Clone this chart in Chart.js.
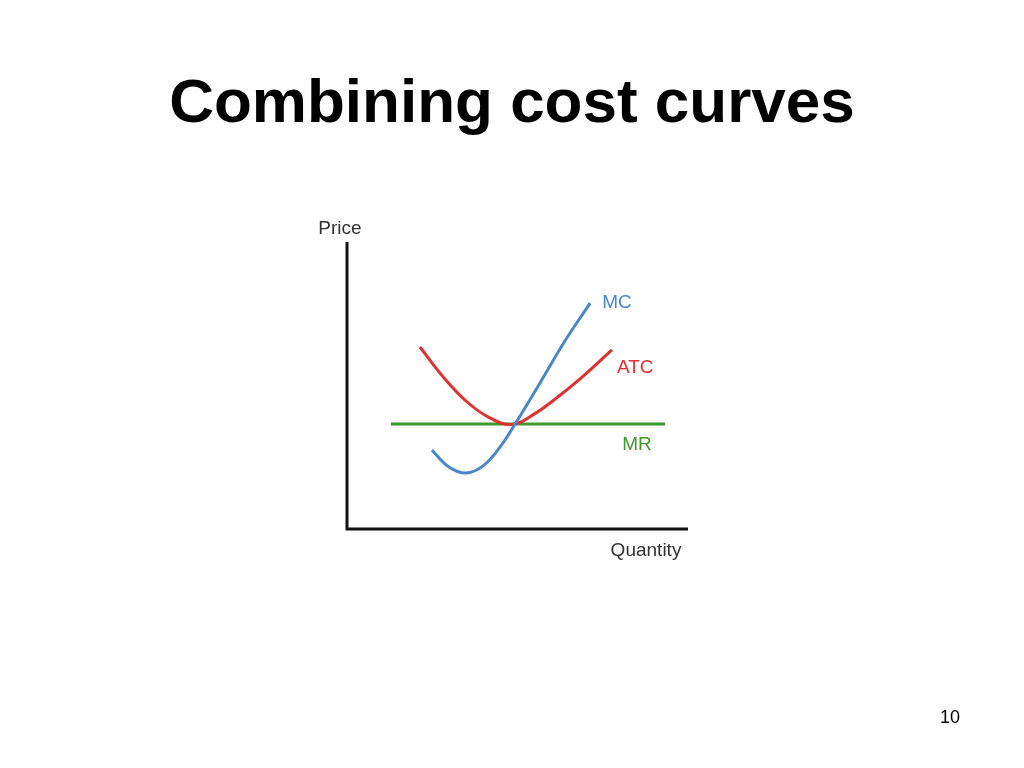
<!DOCTYPE html>
<html>
<head>
<meta charset="utf-8">
<script src="https://cdn.jsdelivr.net/npm/chart.js@4"></script>
<style>
    body { margin: 0; background: #fff; font-family: "Liberation Sans", Arial, sans-serif; }
    #slide { position: relative; width: 1024px; height: 768px; }
    #title { position: absolute; left: 0; width: 1024px; top: 70px; text-align: center;
             font-size: 62px; font-weight: bold; color: #000; line-height: 62px; }
    #page { position: absolute; left: 930px; width: 40px; top: 707px; text-align: center; font-size: 18px; color: #000; }
    canvas { position: absolute; left: 0; top: 0; }
</style>
</head>
<body>
<div id="slide">
    <canvas id="costChart" width="1024" height="768"></canvas>
    <div id="title">Combining cost curves</div>
    <div id="page">10</div>
</div>
<script>
// quantity / price in arbitrary units (axis runs 0..100 on both)
const mcQty = [24.9, 29.9, 34.9, 39.9, 44.9, 49.3, 56.6, 63.9, 71.3];
const mcPrice = [27.5, 21.6, 19.5, 22.0, 28.6, 36.6, 50.9, 65.5, 78.7];

const atcQty = [21.4, 28.2, 34.9, 41.6, 48.4, 55.1, 61.9, 68.6, 77.7];
const atcPrice = [63.4, 53.0, 44.6, 38.9, 36.4, 40.2, 46.1, 52.6, 62.4];

const mrQty = [12.9, 93.3];
const mrPrice = [36.6, 36.6];

const seriesNames = ['MC', 'ATC', 'MR'];
const axisNames = ['Quantity', 'Price'];

const blue = '#4a87c9';
const red = '#dc3232';
const green = '#3f9a2c';

const toPoints = (xs, ys) => xs.map((x, i) => ({ x: x, y: ys[i] }));

// draws the two axes, their names and the curve labels
const slideDecor = {
    id: 'slideDecor',
    beforeDatasetsDraw(chart) {
        const { ctx, chartArea: a } = chart;
        ctx.save();
        ctx.strokeStyle = '#111';
        ctx.lineWidth = 3;
        ctx.beginPath();
        ctx.moveTo(a.left, a.top);
        ctx.lineTo(a.left, a.bottom);
        ctx.lineTo(a.right, a.bottom);
        ctx.stroke();
        ctx.restore();
    },
    afterDatasetsDraw(chart) {
        const { ctx, chartArea: a } = chart;
        ctx.save();
        ctx.font = '19px "Liberation Sans", Arial, sans-serif';
        ctx.fillStyle = '#333';
        ctx.textAlign = 'center';
        ctx.textBaseline = 'middle';
        ctx.fillText(axisNames[1], a.left - 7, a.top - 13);
        ctx.fillText(axisNames[0], a.right - 42, a.bottom + 22);

        const offsets = [[12, 0], [5, 18], [-43, 21]];
        ctx.textAlign = 'left';
        chart.data.datasets.forEach((ds, i) => {
            const meta = chart.getDatasetMeta(i);
            const last = meta.data[meta.data.length - 1];
            ctx.fillStyle = ds.borderColor;
            ctx.fillText(seriesNames[i], last.x + offsets[i][0], last.y + offsets[i][1]);
        });
        ctx.restore();
    }
};

new Chart(document.getElementById('costChart'), {
    type: 'line',
    data: {
        datasets: [{
            label: seriesNames[0],
            data: toPoints(mcQty, mcPrice),
            borderColor: blue,
        }, {
            label: seriesNames[1],
            data: toPoints(atcQty, atcPrice),
            borderColor: red,
        }, {
            label: seriesNames[2],
            data: toPoints(mrQty, mrPrice),
            borderColor: green,
        }]
    },
    options: {
        responsive: false,
        animation: false,
        layout: {
            padding: { left: 347, right: 336, top: 242, bottom: 239 }
        },
        elements: {
            line: { borderWidth: 3, tension: 0.4, fill: false },
            point: { radius: 0 }
        },
        scales: {
            x: { type: 'linear', min: 0, max: 100, display: false },
            y: { type: 'linear', min: 0, max: 100, display: false }
        },
        plugins: {
            legend: { display: false },
            tooltip: { enabled: false }
        }
    },
    plugins: [slideDecor]
});
</script>
</body>
</html>
